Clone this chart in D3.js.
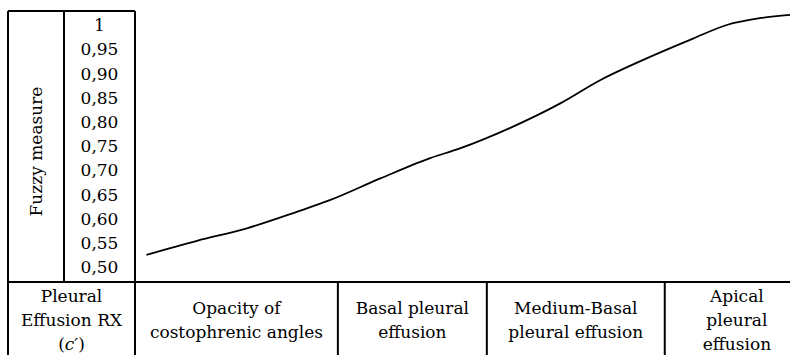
<!DOCTYPE html>
<html>
<head>
<meta charset="utf-8">
<script src="https://cdn.jsdelivr.net/npm/d3@7"></script>
</head>
<body style="margin:0;background:#fff">
<svg id="chart" width="790" height="355"></svg>
<script>
// y column: values and the way they are printed
const yTicks = [1, 0.95, 0.90, 0.85, 0.80, 0.75, 0.70, 0.65, 0.60, 0.55, 0.50];
const yTickLabels = ["1", "0,95", "0,90", "0,85", "0,80", "0,75", "0,70", "0,65", "0,60", "0,55", "0,50"];

// bottom row categories (one entry per text line) and where each ends on a 0-100 scale
const categories = [
  ["Opacity of", "costophrenic angles"],
  ["Basal pleural", "effusion"],
  ["Medium-Basal", "pleural effusion"],
  ["Apical", "pleural", "effusion"]
];
const categoryEnds = [30.1, 52.2, 78.6, 100];

// fuzzy measure curve
const curveX = [1.7, 9.2, 16.6, 24.0, 28.9, 36.4, 43.8, 48.2, 55.6, 63.1, 69.0, 75.4, 82.8, 87.8, 92.7, 97.2];
const curveY = [0.525, 0.554, 0.580, 0.614, 0.638, 0.683, 0.725, 0.745, 0.787, 0.838, 0.886, 0.928, 0.972, 1.0, 1.014, 1.021];

// *******************
// layout
// *******************
const LEFT = 8, MID = 64, PLOT_LEFT = 135, PLOT_RIGHT = 809;
const TOP = 11, DIVIDER = 282, BOTTOM = 358;
const LINE_H = 24;
const FONT = "'DejaVu Serif', serif";

const svg = d3.select("#chart")
  .attr("font-family", FONT)
  .attr("font-size", 17)
  .attr("fill", "#000");

const x = d3.scaleLinear().domain([0, 100]).range([PLOT_LEFT, PLOT_RIGHT]);
const y = d3.scaleLinear().domain([0.5, 1]).range([267, 25]);

// table rules
const rules = [
  [LEFT, TOP, PLOT_LEFT, TOP],          // top, only over the label columns
  [LEFT, TOP, LEFT, BOTTOM],            // left edge
  [MID, TOP, MID, DIVIDER],             // between title and values
  [PLOT_LEFT, TOP, PLOT_LEFT, BOTTOM],  // plot left edge
  [LEFT, DIVIDER, PLOT_RIGHT, DIVIDER], // plot / categories divider
  [LEFT, BOTTOM, PLOT_RIGHT, BOTTOM]
];
categoryEnds.slice(0, -1).forEach((e) => rules.push([x(e), DIVIDER, x(e), BOTTOM]));

svg.append("g")
  .selectAll("line")
  .data(rules)
  .enter()
  .append("line")
  .attr("x1", (d) => d[0])
  .attr("y1", (d) => d[1])
  .attr("x2", (d) => d[2])
  .attr("y2", (d) => d[3])
  .attr("stroke", "#000")
  .attr("stroke-width", 2);

// y title, rotated
svg.append("text")
  .attr("transform", `translate(42, ${(TOP + DIVIDER) / 2 + 5}) rotate(-90)`)
  .attr("text-anchor", "middle")
  .text("Fuzzy measure");

// y values
svg.append("g")
  .selectAll("text")
  .data(yTicks)
  .enter()
  .append("text")
  .attr("x", (MID + PLOT_LEFT) / 2)
  .attr("y", (d) => y(d))
  .attr("dy", "0.36em")
  .attr("text-anchor", "middle")
  .text((d, i) => yTickLabels[i]);

// multi-line centered cell text
function cellText(g, lines, cx) {
  const cy = (DIVIDER + BOTTOM) / 2;
  const t = g.append("text").attr("text-anchor", "middle");
  lines.forEach((line, i) => {
    const ts = t.append("tspan")
      .attr("x", cx)
      .attr("y", cy + (i - (lines.length - 1) / 2) * LINE_H)
      .attr("dy", "0.36em");
    if (Array.isArray(line)) {
      line.forEach((part) => {
        ts.append("tspan").attr("font-style", part.italic ? "italic" : null).text(part.text);
      });
    } else {
      ts.text(line);
    }
  });
}

const cells = svg.append("g");
cellText(cells, ["Pleural", "Effusion RX", [{ text: "(" }, { text: "c′", italic: true }, { text: ")" }]], (LEFT + PLOT_LEFT) / 2);
categories.forEach((lines, i) => {
  const start = i === 0 ? 0 : categoryEnds[i - 1];
  cellText(cells, lines, x((start + categoryEnds[i]) / 2));
});

// the curve
const line = d3.line()
  .x((d) => x(d[0]))
  .y((d) => y(d[1]))
  .curve(d3.curveMonotoneX);

svg.append("path")
  .datum(curveX.map((v, i) => [v, curveY[i]]))
  .attr("d", line)
  .attr("fill", "none")
  .attr("stroke", "#000")
  .attr("stroke-width", 1.8);
</script>
</body>
</html>
